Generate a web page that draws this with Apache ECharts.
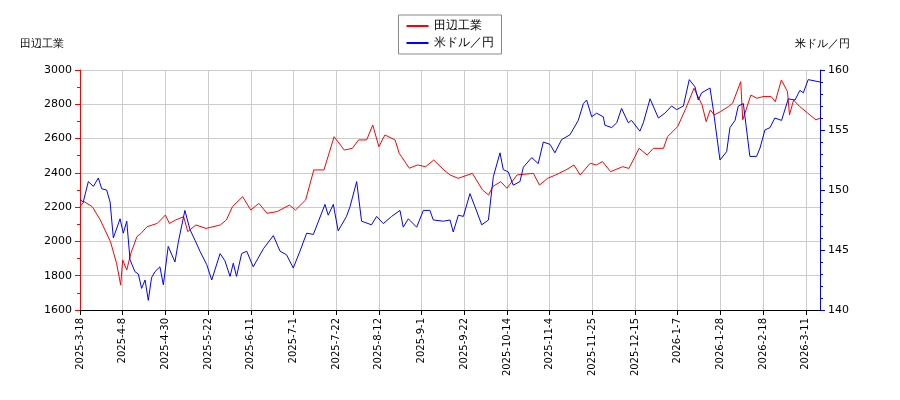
<!DOCTYPE html>
<html>
<head>
<meta charset="utf-8">
<script src="https://cdn.jsdelivr.net/npm/echarts@6/dist/echarts.min.js"></script>
<style>html,body{margin:0;padding:0;background:#fff}#main{width:900px;height:400px}</style>
</head>
<body>
<div id="main"></div>
<script>
// 起点日 2025-03-18 からの経過日数
var tickLabels = ['2025-3-18','2025-4-8','2025-4-30','2025-5-22','2025-6-11','2025-7-1','2025-7-22','2025-8-12','2025-9-1','2025-9-22','2025-10-14','2025-11-4','2025-11-25','2025-12-15','2026-1-7','2026-1-28','2026-2-18','2026-3-11'];
var redDays = [0,2,6,10,15,18,20,21,23,25,28,30,33,38,42,44,47,51,53,57,62,69,72,75,80,84,88,92,97,103,106,111,115,120,125,130,134,137,141,144,147,150,155,157,162,166,170,174,179,182,
  186,193,198,201,203,207,210,215,223,226,230,234,239,243,246,251,254,257,261,267,270,273,275,279,282,287,289,294,298,302,306,308,310,312,315,319,321,325,326,330,333,336,340,342,345,348,349,351,354,358,362,364];
var redValues = [2203,2232,2203,2125,1998,1872,1746,1892,1833,1930,2028,2047,2086,2105,2154,2105,2125,2144,2057,2096,2076,2096,2125,2203,2261,2183,2222,2164,2174,2212,2183,2242,2417,2417,2611,2533,2543,2592,2592,2679,2553,2621,2592,2514,2427,2446,2436,2475,2417,2388,
  2368,2397,2300,2271,2320,2349,2310,2388,2397,2329,2368,2388,2417,2446,2388,2456,2446,2466,2407,2436,2426,2495,2543,2504,2543,2543,2611,2670,2776,2893,2796,2699,2767,2738,2757,2787,2806,2932,2709,2854,2835,2845,2845,2815,2942,2874,2738,2825,2787,2748,2709,2719];
var blueDays = [0,1.6,4.1,6.6,9,10.7,13.1,14.8,16.4,19.7,21.3,23,24.6,27,28.7,30.3,32,33.6,35.2,36.9,39.3,41,43.4,46.7,48.4,51.6,54.1,56.6,59,62.3,64.8,68.9,71.3,73.8,75.4,77,79.5,82,85.2,90.2,95.1,98.4,101.6,104.9,108.2,111.5,114.8,120.5,122.1,124.6,127,131.1,132.8,136.1,138.5,143.4,145.9,149.2,153.3,157.4,159,161.5,165.6,168.9,172.1,173.8,178.7,182,
  183.6,186.1,188.6,191.8,194.3,197.6,200.9,203.3,206.6,208.2,210.7,213.1,216.4,218.1,222.2,225.4,227.9,231.2,233.6,236.9,241,245.1,247.6,249.2,251.7,254.1,257.4,258.2,261.5,264,266.4,269.7,271.3,275.4,277.1,280.4,284.5,287.7,291,293.5,296.8,299.7,302.5,304.1,305.8,309.9,311.5,314.8,318.1,319.7,322.2,323.8,326.3,329.5,332.8,334.5,336.9,339.4,341.8,345.1,348.4,351.7,354.1,355.8,358.2,364];
var blueValues = [149.2,149,150.7,150.3,151,150.1,150,149,146,147.6,146.4,147.4,144.2,143.2,143,141.8,142.5,140.8,142.7,143.2,143.6,142.1,145.3,144,145.7,148.3,146.7,145.8,144.9,143.8,142.5,144.7,144.1,142.8,143.9,142.8,144.7,144.9,143.6,145.1,146.2,144.9,144.6,143.5,144.9,146.4,146.3,148.8,147.9,148.8,146.6,147.8,148.6,150.7,147.4,147.1,147.8,147.2,147.8,148.3,146.9,147.6,146.9,148.3,148.3,147.5,147.4,147.5,
  146.5,147.9,147.8,149.7,148.6,147.1,147.5,151.1,153.1,151.7,151.5,150.4,150.7,151.9,152.7,152.2,154,153.8,153.1,154.2,154.6,155.8,157.2,157.5,156.1,156.4,156.1,155.4,155.2,155.6,156.8,155.6,155.8,154.9,155.6,157.6,156,156.4,157,156.7,157,159.2,158.6,157.5,158.1,158.5,156.7,152.5,153.2,155.2,155.8,157,157.2,152.8,152.8,153.5,155,155.2,156,155.8,157.6,157.5,158.3,158.1,159.2,159];

function dayLabel(d) {
    var i = Math.round(d / 21);
    return tickLabels[i] || '';
}
function pairs(days, vals) {
    return days.map(function (d, i) { return [d, vals[i]]; });
}

var myChart = echarts.init(document.getElementById('main'));
var font = 'DejaVu Sans';
var option = {
    animation: false,
    textStyle: {fontFamily: font},
    legend: {
        top: 15,
        left: 'center',
        orient: 'vertical',
        borderColor: '#888',
        borderWidth: 1,
        padding: [5, 8],
        itemGap: 5,
        itemWidth: 22,
        itemHeight: 2,
        textStyle: {fontSize: 12, color: '#000'},
        data: [
            {name: '田辺工業', icon: 'rect'},
            {name: '米ドル／円', icon: 'rect'}
        ]
    },
    graphic: [
        {type: 'text', left: 20, top: 39, style: {text: '田辺工業', fontSize: 11, fill: '#000', fontFamily: font}},
        {type: 'text', right: 50, top: 39, style: {text: '米ドル／円', fontSize: 11, fill: '#000', fontFamily: font}}
    ],
    grid: {left: 80, right: 80, top: 70, bottom: 90},
    xAxis: {
        type: 'value',
        min: 0,
        max: 364,
        interval: 21,
        axisLine: {lineStyle: {color: '#000'}},
        axisTick: {lineStyle: {color: '#000'}},
        axisLabel: {rotate: 90, fontSize: 10, color: '#000', formatter: dayLabel, showMaxLabel: false},
        splitLine: {show: true, lineStyle: {color: '#ccc'}}
    },
    yAxis: [
        {
            type: 'value', min: 1600, max: 3000, interval: 200,
            axisLine: {show: true, lineStyle: {color: 'red'}},
            axisTick: {show: true, lineStyle: {color: 'red'}},
            minorTick: {show: true, splitNumber: 2, lineStyle: {color: 'red'}},
            axisLabel: {color: '#000', fontSize: 11, formatter: function (v) { return String(v); }},
            splitLine: {lineStyle: {color: '#ccc'}}
        },
        {
            type: 'value', min: 140, max: 160, interval: 5,
            axisLine: {show: true, lineStyle: {color: 'blue'}},
            axisTick: {show: true, lineStyle: {color: 'blue'}},
            minorTick: {show: true, splitNumber: 5, lineStyle: {color: 'blue'}},
            axisLabel: {color: '#000', fontSize: 11},
            splitLine: {show: false}
        }
    ],
    series: [
        {name: '田辺工業', type: 'line', yAxisIndex: 0, data: pairs(redDays, redValues), showSymbol: false, color: 'red', lineStyle: {width: 1}},
        {name: '米ドル／円', type: 'line', yAxisIndex: 1, data: pairs(blueDays, blueValues), showSymbol: false, color: 'blue', lineStyle: {width: 1}}
    ]
};
myChart.setOption(option);
</script>
</body>
</html>
